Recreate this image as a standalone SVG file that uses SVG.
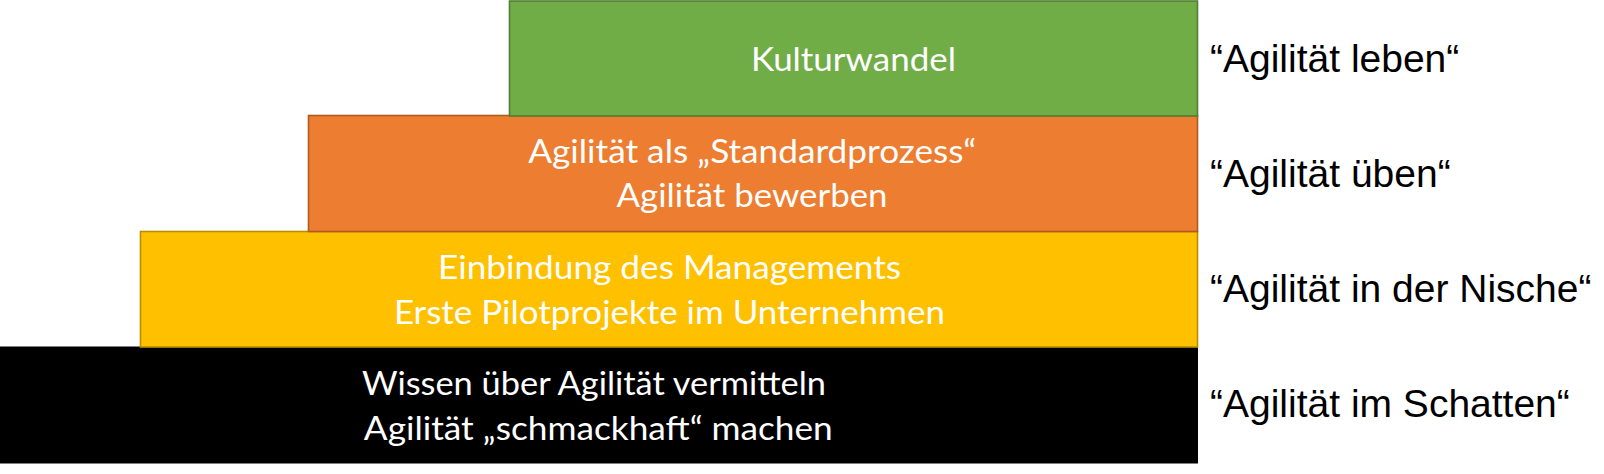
<svg xmlns="http://www.w3.org/2000/svg" width="1604" height="474" viewBox="0 0 1604 474">
<style>
.box-text{font-family:Lato,"Open Sans","Liberation Sans",sans-serif;font-size:33.5px;fill:#ffffff;text-anchor:middle}
.side{font-family:"Liberation Sans",Arial,sans-serif;font-size:39px;fill:#000000}
.green{fill:#70AD47;stroke:#507E32;stroke-width:1.6}
.orange{fill:#ED7D31;stroke:#AE5A21;stroke-width:1.6}
.yellow{fill:#FFC000;stroke:#BC8C00;stroke-width:1.6}
.black{fill:#000000}
</style>
<rect width="1604" height="474" fill="#ffffff"/>
<g id="node-schatten">
<rect class="black" x="0" y="346.5" width="1198" height="117"/>
<text class="box-text" x="594" y="395" textLength="464" lengthAdjust="spacingAndGlyphs">Wissen über Agilität vermitteln</text>
<text class="box-text" x="598.3" y="440" textLength="469" lengthAdjust="spacingAndGlyphs">Agilität „schmackhaft“ machen</text>
</g>
<g id="node-nische">
<rect class="yellow" x="140.5" y="231.5" width="1057" height="115.5"/>
<text class="box-text" x="669.5" y="279.3" textLength="463" lengthAdjust="spacingAndGlyphs">Einbindung des Managements</text>
<text class="box-text" x="669.4" y="324.3" textLength="551" lengthAdjust="spacingAndGlyphs">Erste Pilotprojekte im Unternehmen</text>
</g>
<g id="node-ueben">
<rect class="orange" x="308.5" y="115.5" width="889" height="116"/>
<text class="box-text" x="752.2" y="162.7" textLength="448" lengthAdjust="spacingAndGlyphs">Agilität als „Standardprozess“</text>
<text class="box-text" x="752" y="207.3" textLength="271" lengthAdjust="spacingAndGlyphs">Agilität bewerben</text>
</g>
<g id="node-leben">
<rect class="green" x="509.5" y="1" width="688" height="115"/>
<text class="box-text" x="853.4" y="70.7" textLength="205" lengthAdjust="spacingAndGlyphs">Kulturwandel</text>
</g>
<g id="label-leben"><text class="side" x="1210" y="71.7">“Agilität leben“</text></g>
<g id="label-ueben"><text class="side" x="1210" y="186.7">“Agilität üben“</text></g>
<g id="label-nische"><text class="side" x="1210" y="301.7">“Agilität in der Nische“</text></g>
<g id="label-schatten"><text class="side" x="1210" y="416.7">“Agilität im Schatten“</text></g>
</svg>
